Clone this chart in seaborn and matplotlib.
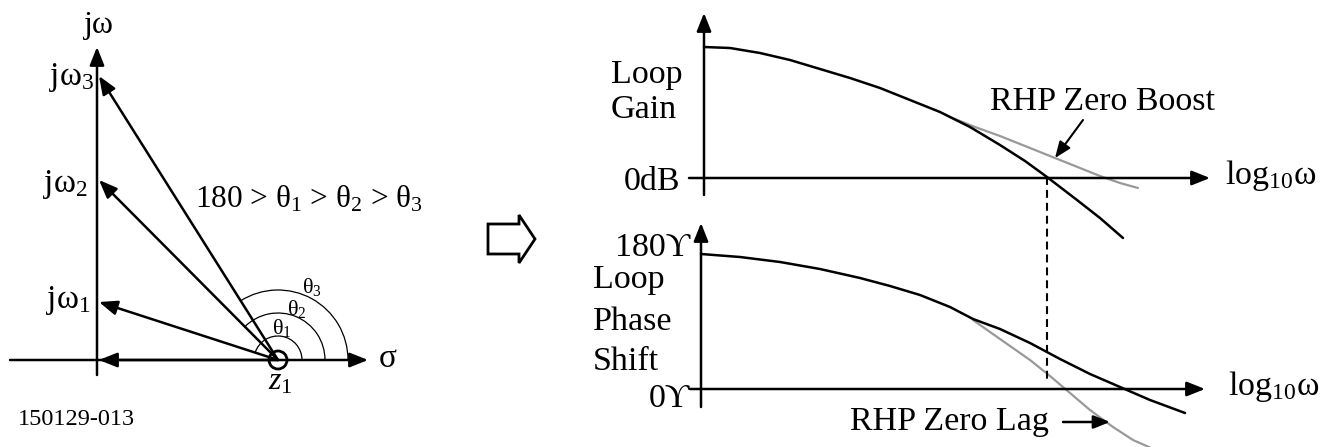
import numpy as np
import matplotlib
matplotlib.use("Agg")
import matplotlib.pyplot as plt
import seaborn as sns
from matplotlib.patches import Arc, Circle, Polygon

# --- left: s-plane picture (pixel coords of the 1337x447 figure) ---
zero_x, zero_y = 278, 360
jw_axis_x = 97
jw_tip_y = [302, 180, 76]            # jw1, jw2, jw3
jw_labels = ['jω$_1$', 'jω$_2$', 'jω$_3$']
jw_label_pos = [(91, 308), (88, 192), (94, 85)]
arc_radii = [24, 47, 70]
theta_labels = ['θ$_1$', 'θ$_2$', 'θ$_3$']
theta_pos = [(272, 334), (287, 315), (302, 293)]

# --- right: loop gain / phase sketch ---
gain_x = [704, 730, 760, 790, 820, 850, 880, 910, 940, 970, 1000, 1025, 1047, 1077, 1100, 1123]
gain_y = [47, 48, 53, 60, 69, 78, 88, 100, 112, 127, 145, 161, 177, 200, 218, 238]
boost_x = [950, 975, 1000, 1025, 1055, 1080, 1100, 1120, 1138]
boost_y = [117, 127, 136, 146, 158, 168, 176, 183, 188]
phase_x = [701, 740, 780, 820, 860, 890, 920, 950, 973, 1000, 1030, 1060, 1090, 1120, 1150, 1185]
phase_y = [254, 257, 262, 269, 278, 286, 295, 307, 319, 329, 343, 359, 374, 387, 400, 413]
lag_x = [973, 990, 1010, 1030, 1050, 1070, 1090, 1113, 1133, 1160]
lag_y = [320, 332, 346, 360, 376, 393, 410, 427, 440, 452]
crossover_x = 1047

sns.set_theme(style="white")
serif = ['Liberation Serif', 'DejaVu Serif']
plt.rcParams['font.family'] = serif
plt.rcParams['mathtext.fontset'] = 'custom'
plt.rcParams['mathtext.rm'] = 'Liberation Serif'
plt.rcParams['mathtext.it'] = 'Liberation Serif:italic'
plt.rcParams['mathtext.default'] = 'regular'

fig = plt.figure(figsize=(13.37, 4.47), dpi=100)
ax = fig.add_axes([0, 0, 1, 1])
ax.set_xlim(0, 1337)
ax.set_ylim(447, 0)
ax.axis('off')

AX_LW = 1.8


def arrow(x0, y0, x1, y1, lw=AX_LW, scale=20):
    ax.annotate('', xy=(x1, y1), xytext=(x0, y0),
                arrowprops=dict(arrowstyle='-|>,head_length=0.55,head_width=0.22',
                                mutation_scale=scale, lw=lw, color='black',
                                shrinkA=0, shrinkB=0))


def txt(x, y, s, size, ha='left', **kw):
    ax.text(x, y, s, fontsize=size, ha=ha, va='baseline', color='black',
            family=serif, **kw)


# s-plane axes
arrow(10, zero_y, 368, zero_y)
arrow(jw_axis_x, 375, jw_axis_x, 47)
txt(99, 33, 'jω', 23, ha='center')
txt(379, 367, 'σ', 24)

# vectors from the zero
arrow(zero_x, zero_y, jw_axis_x + 2, zero_y)
for ty in jw_tip_y:
    arrow(zero_x, zero_y, jw_axis_x + 2, ty)
for lab, (lx, ly) in zip(jw_labels, jw_label_pos):
    txt(lx, ly, lab, 24, ha='right')

# angle arcs
for r, ty in zip(arc_radii, jw_tip_y):
    ang = np.degrees(np.arctan2(zero_y - ty, zero_x - (jw_axis_x + 2)))
    ax.add_patch(Arc((zero_x, zero_y), 2 * r, 2 * r, theta1=-(180 - ang), theta2=0,
                     lw=0.9, color='black'))
for lab, (lx, ly) in zip(theta_labels, theta_pos):
    txt(lx, ly, lab, 16)

ax.add_patch(Circle((zero_x, zero_y), 9, fill=False, edgecolor='black', lw=2, zorder=5))
txt(zero_x + 2, 390, r'$\mathit{z}_1$', 23, ha='center')
txt(195, 207, '180 > θ$_1$ > θ$_2$ > θ$_3$', 22.5)
txt(18, 425, '150129-013', 17.5)

# hollow arrow
ax.add_patch(Polygon([(488, 224), (519, 224), (519, 215), (535, 239),
                      (519, 263), (519, 254), (488, 254)],
                     closed=True, fill=False, edgecolor='black', lw=2))

# gain plot
arrow(704, 195, 704, 13)
arrow(689, 178, 1210, 178)
sns.lineplot(x=boost_x, y=boost_y, sort=False, estimator=None, color='#999999', lw=1.6, ax=ax)
sns.lineplot(x=gain_x, y=gain_y, sort=False, estimator=None, color='black', lw=1.8, ax=ax)
txt(611, 83, 'Loop', 24.5)
txt(611, 118, 'Gain', 24.5)
txt(680, 190, '0dB', 24.5, ha='right')
txt(1225, 184, 'log$_{10}$ω', 24.5)
txt(990, 110, 'RHP Zero Boost', 24.5)
arrow(1083, 120, 1055, 158, lw=1.5, scale=18)

# phase plot
arrow(701, 407, 701, 223)
arrow(690, 389, 1205, 389)
sns.lineplot(x=lag_x, y=lag_y, sort=False, estimator=None, color='#999999', lw=1.6, ax=ax)
sns.lineplot(x=phase_x, y=phase_y, sort=False, estimator=None, color='black', lw=1.8, ax=ax)
txt(690, 256, '180ϒ', 24.5, ha='right')
txt(593, 288, 'Loop', 24.5)
txt(593, 330, 'Phase', 24.5)
txt(593, 370, 'Shift', 24.5)
txt(690, 407, '0ϒ', 24.5, ha='right')
txt(1228, 395, 'log$_{10}$ω', 24.5)
txt(850, 430, 'RHP Zero Lag', 24.5)
arrow(1063, 422, 1110, 422, lw=1.8, scale=18)

# crossover marker
ax.plot([crossover_x, crossover_x], [177, 382], color='black', lw=1.5, ls=(0, (3.8, 2.4)))

ax.set_xlim(0, 1337)
ax.set_ylim(447, 0)
fig.savefig('out.png', dpi=100)
